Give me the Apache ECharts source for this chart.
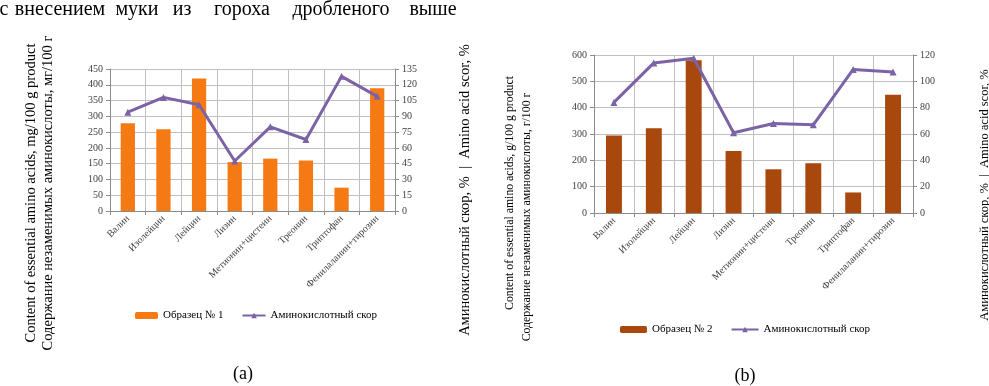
<!DOCTYPE html>
<html>
<head>
<meta charset="utf-8">
<script src="https://cdn.jsdelivr.net/npm/echarts@6/dist/echarts.min.js"></script>
<style>html,body{margin:0;padding:0;background:#fff}#c{width:989px;height:386px}</style>
</head>
<body>
<div id="c"></div>
<script>
const categories = ['Валин','Изолейцин','Лейцин','Лизин','Метионин+цистеин','Треонин','Триптофан','Фенилаланин+тирозин'];
const sample1 = [278, 259, 420, 155, 166, 160, 74, 389];
const score1 = [94, 108, 101, 47.5, 80, 68, 128, 109];
const sample2 = [294, 322, 580, 235, 166, 189, 78, 449];
const score2 = [84, 114, 117.5, 61, 68, 67, 109, 107];
const leftTicks = {min: 0, max: 450, interval: 50};
const leftScoreTicks = {min: 0, max: 135, interval: 15};
const rightTicks = {min: 0, max: 600, interval: 100};
const rightScoreTicks = {min: 0, max: 120, interval: 20};

const FONT = '"Liberation Serif", "DejaVu Serif", serif';
const chart = echarts.init(document.getElementById('c'));
const gridLine = {show: true, lineStyle: {color: '#bfbfbf', width: 1}};
const axisLbl = {fontFamily: FONT, fontSize: 10, color: '#404040'};
function xAxis(gi) {
  return {type: 'category', gridIndex: gi, data: categories, boundaryGap: true,
    axisLine: {show: true, lineStyle: {color: '#8c8c8c'}},
    axisTick: {show: true, length: 4, lineStyle: {color: '#8c8c8c'}},
    splitLine: gridLine,
    axisLabel: Object.assign({rotate: 45, interval: 0, margin: 6}, axisLbl)};
}
function yAxis(gi, t, pos) {
  return {type: 'value', gridIndex: gi, position: pos, min: t.min, max: t.max, interval: t.interval,
    axisLine: {show: true, lineStyle: {color: '#8c8c8c'}},
    axisTick: {show: true, length: 4, lineStyle: {color: '#8c8c8c'}},
    splitLine: pos === 'left' ? gridLine : {show: false},
    axisLabel: Object.assign({margin: 7}, axisLbl)};
}
const lineStyle = {color: '#7b63a6', width: 3};
function vtext(x, y, text, size) {
  return {type: 'text', x: x, y: y, rotation: Math.PI / 2,
    style: {text: text, font: size + 'px ' + FONT, fill: '#000', align: 'center', verticalAlign: 'middle'}};
}
const words = [['с',4],['внесением',60],['муки',137],['из',182],['гороха',242],['дробленого',341],['выше',433]];
const graphics = words.map(w => ({type: 'text', x: w[1], y: 10,
  style: {text: w[0], font: '20px ' + FONT, fill: '#000', align: 'center', verticalAlign: 'middle'}}));
graphics.push(
  vtext(31, 193, 'Content of essential amino acids, mg/100 g product', 14.5),
  vtext(48, 193, 'Содержание незаменимых аминокислоты, мг/100 г', 14.5),
  vtext(465, 190, 'Аминокислотный скор, %  |  Amino acid scor, %', 14.5),
  vtext(510, 193, 'Content of essential amino acids, g/100 g product', 11.8),
  vtext(527, 217, 'Содержание незаменимых аминокислоты, г/100 г', 11.8),
  vtext(985, 195, 'Аминокислотный скор, %  |  Amino acid scor, %', 12.5),
  {type: 'text', x: 243, y: 374, style: {text: '(a)', font: '18px ' + FONT, fill: '#000', align: 'center', verticalAlign: 'middle'}},
  {type: 'text', x: 745, y: 376, style: {text: '(b)', font: '18px ' + FONT, fill: '#000', align: 'center', verticalAlign: 'middle'}}
);

chart.setOption({
  animation: false,
  grid: [
    {left: 110, top: 69, width: 285, height: 142},
    {left: 594, top: 55, width: 319, height: 158}
  ],
  xAxis: [xAxis(0), xAxis(1)],
  yAxis: [yAxis(0, leftTicks, 'left'), yAxis(0, leftScoreTicks, 'right'), yAxis(1, rightTicks, 'left'), yAxis(1, rightScoreTicks, 'right')],
  legend: [
    {data: ['Образец № 1', 'Аминокислотный скор'], left: 130, top: 305, itemWidth: 23, itemHeight: 7, itemGap: 18,
      textStyle: {fontFamily: FONT, fontSize: 11, color: '#000'}},
    {data: ['Образец № 2', 'Аминокислотный скор'], left: 615, top: 319, itemWidth: 27, itemHeight: 7, itemGap: 18,
      textStyle: {fontFamily: FONT, fontSize: 11, color: '#000'}}
  ],
  series: [
    {name: 'Образец № 1', type: 'bar', xAxisIndex: 0, yAxisIndex: 0, data: sample1, barWidth: '40%', itemStyle: {color: '#f57a14'}},
    {name: 'Аминокислотный скор', type: 'line', xAxisIndex: 0, yAxisIndex: 1, data: score1, symbol: 'triangle', symbolSize: 7,
      lineStyle: lineStyle, itemStyle: {color: '#7b63a6'}},
    {name: 'Образец № 2', type: 'bar', xAxisIndex: 1, yAxisIndex: 2, data: sample2, barWidth: '40%', itemStyle: {color: '#a8480c'}},
    {name: 'Аминокислотный скор', type: 'line', xAxisIndex: 1, yAxisIndex: 3, data: score2, symbol: 'triangle', symbolSize: 7,
      lineStyle: lineStyle, itemStyle: {color: '#7b63a6'}}
  ],
  graphic: graphics
});
</script>
</body>
</html>
